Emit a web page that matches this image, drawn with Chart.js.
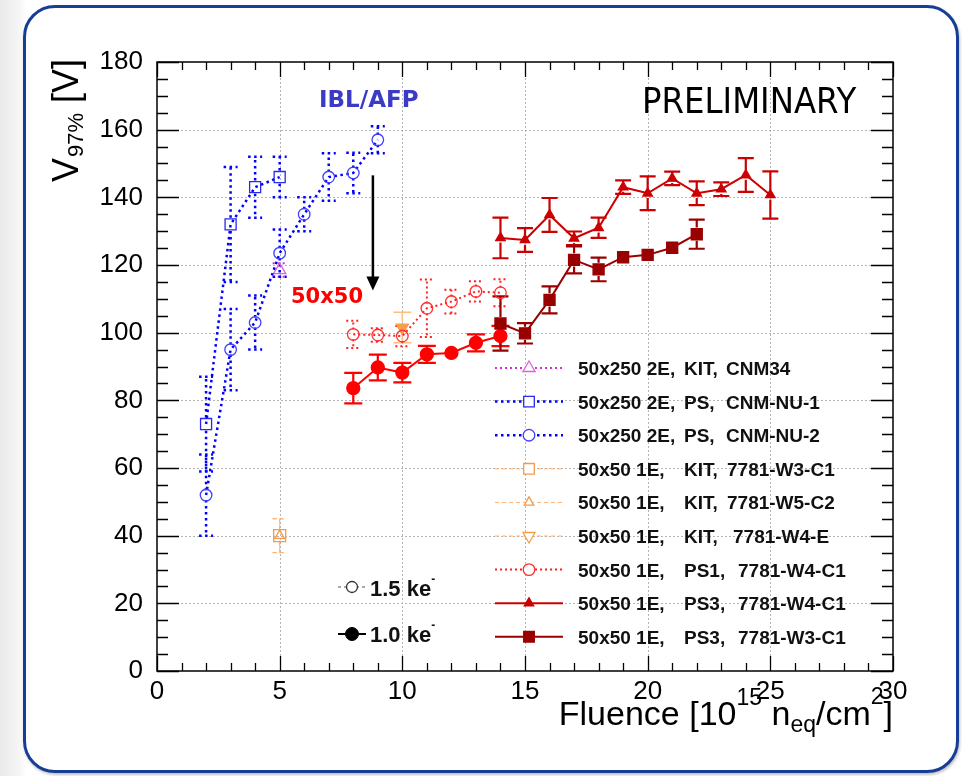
<!DOCTYPE html>
<html><head><meta charset="utf-8">
<script src="https://cdn.jsdelivr.net/npm/chart.js@4.4.1/dist/chart.umd.min.js"></script>
<style>
html,body{margin:0;padding:0;background:#fff;}
#wrap{position:relative;width:965px;height:776px;overflow:hidden;background:linear-gradient(to right,#e9e9e9 0,#f6f6f6 20px,#fff 26px);}
#frame{position:absolute;left:23px;top:5px;width:936px;height:768px;box-sizing:border-box;border:3.5px solid #173e96;border-radius:32px;background:#fff;box-shadow:1px 2px 3px rgba(0,0,0,0.25);}
canvas{position:absolute;left:0;top:0;}
</style></head>
<body><div id="wrap"><div id="frame"></div><canvas id="c" width="965" height="776"></canvas></div>
<script>
// ---- tick labels ----
const xTickVals = [0, 5, 10, 15, 20, 25, 30];
const yTickVals = [0, 20, 40, 60, 80, 100, 120, 140, 160, 180];

// ---- series (fluence, V97%, error) ----
const kitCnm34X = [5];
const kitCnm34Y = [118.5];
const kitCnm34E = [2];

const psNu1X = [2, 3, 4, 5];
const psNu1Y = [73, 132, 143, 146];
const psNu1E = [14, 17, 9, 6];

const psNu2X = [2, 3, 4, 5, 6, 7, 8, 9];
const psNu2Y = [52, 95, 103, 123.5, 135, 146, 147.2, 157];
const psNu2E = [12, 12, 8, 7, 5, 7, 6, 4];

const kitW3C1X = [5];
const kitW3C1Y = [40];
const kitW3C1E = [5];

const kitW5C2X = [5];
const kitW5C2Y = [40];
const kitW5C2E = [5];

const kitW4EX = [10];
const kitW4EY = [101.5];
const kitW4EE = [4.5];

const ps1X = [8, 9, 10, 11, 12, 13, 14];
const ps1Y = [99.5, 99.3, 99, 107.2, 109.2, 112.2, 111.8];
const ps1E = [4, 2, 3, 8.5, 3.5, 3, 4];

const ps1LowX = [8, 9, 10, 11, 12, 13, 14];
const ps1LowY = [83.6, 89.7, 88.2, 93.6, 94, 97, 99];
const ps1LowE = [4.5, 3.8, 2.9, 2.5, 1, 2.5, 3];

const ps3W4X = [14, 15, 16, 17, 18, 19, 20, 21, 22, 23, 24, 25];
const ps3W4Y = [128, 127.4, 134.8, 127.9, 131, 143, 141.2, 145.6, 141.2, 142.4, 146.6, 140.7];
const ps3W4E = [6, 3.5, 5, 2, 3, 2, 5, 2, 3.5, 2, 5, 7];

const ps3W3X = [14, 15, 16, 17, 18, 19, 20, 21, 22];
const ps3W3Y = [102.7, 99.8, 109.7, 121.5, 118.7, 122.3, 123, 125.1, 129.1];
const ps3W3E = [8, 3, 4, 4, 3.5, 1.5, 1, 1.5, 4.3];

const legendLabels = [
  ['50x250 2E,', 'KIT,', 'CNM34'],
  ['50x250 2E,', 'PS,', 'CNM-NU-1'],
  ['50x250 2E,', 'PS,', 'CNM-NU-2'],
  ['50x50 1E,', 'KIT,', '7781-W3-C1'],
  ['50x50 1E,', 'KIT,', '7781-W5-C2'],
  ['50x50 1E,', 'KIT,', '7781-W4-E'],
  ['50x50 1E,', 'PS1,', '7781-W4-C1'],
  ['50x50 1E,', 'PS3,', '7781-W4-C1'],
  ['50x50 1E,', 'PS3,', '7781-W3-C1']
];

const pts = (xs, ys) => xs.map((x, i) => ({x: x, y: ys[i]}));

function mk(o) {
  return Object.assign({
    showLine: true, fill: false, borderWidth: 2, pointBorderWidth: 1.3,
    pointBackgroundColor: 'rgba(0,0,0,0)', pointHoverRadius: 0
  }, o);
}

const datasets = [
  mk({label: 'kit34', data: pts(kitCnm34X, kitCnm34Y), errors: kitCnm34E, borderColor: '#d030d0', pointBorderColor: '#e060e0',
      borderDash: [2, 3], errDash: [2, 3], errWidth: 2, pointStyle: 'triangle', pointRadius: 7, cap: 7, legendRow: 0}),
  mk({label: 'nu1', data: pts(psNu1X, psNu1Y), errors: psNu1E, borderColor: '#0000ff', pointBorderColor: '#2828f0',
      borderWidth: 2.5, borderDash: [2.5, 3.5], errDash: [2.5, 3.5], errWidth: 2.5, pointStyle: 'rect', pointRadius: 7.8, cap: 7, legendRow: 1}),
  mk({label: 'nu2', data: pts(psNu2X, psNu2Y), errors: psNu2E, borderColor: '#0000ff', pointBorderColor: '#4040ff',
      borderWidth: 2.5, borderDash: [2.5, 3.5], errDash: [2.5, 3.5], errWidth: 2.5, pointStyle: 'circle', pointRadius: 5.8, cap: 7, legendRow: 2}),
  mk({label: 'w3c1', data: pts(kitW3C1X, kitW3C1Y), errors: kitW3C1E, borderColor: '#ffb070', pointBorderColor: '#f59a4a',
      borderWidth: 1, borderDash: [4, 3], errDash: [4, 3], errWidth: 1, pointStyle: 'rect', pointRadius: 8.5, cap: 7, legendRow: 3}),
  mk({label: 'w5c2', data: pts(kitW5C2X, kitW5C2Y), errors: kitW5C2E, borderColor: '#ffb070', pointBorderColor: '#f59a4a',
      borderWidth: 1, borderDash: [4, 3], errDash: [4, 3], errWidth: 1, pointStyle: 'triangle', pointRadius: 5.5, cap: 7, legendRow: 4}),
  mk({label: 'w4e', data: pts(kitW4EX, kitW4EY), errors: kitW4EE, borderColor: '#ffb070', pointBorderColor: '#f4a048',
      pointBackgroundColor: '#f4a048', borderWidth: 1, borderDash: [4, 3], errDash: [], errWidth: 1.5, errColor: '#ffbe80',
      pointStyle: 'triangle', pointRotation: 180, pointRadius: 7, cap: 9, legendRow: 5, legendOpen: true}),
  mk({label: 'ps1', data: pts(ps1X, ps1Y), errors: ps1E, borderColor: '#ff2020', pointBorderColor: '#ff3030',
      borderDash: [2, 3], errDash: [2, 3], errWidth: 2, pointStyle: 'circle', pointRadius: 5.8, cap: 7, legendRow: 6}),
  mk({label: 'ps1low', data: pts(ps1LowX, ps1LowY), errors: ps1LowE, borderColor: '#ff0000', pointBorderColor: '#ff0000',
      pointBackgroundColor: '#ff0000', errWidth: 2.2, pointStyle: 'circle', pointRadius: 6.5, cap: 9}),
  mk({label: 'ps3w4', data: pts(ps3W4X, ps3W4Y), errors: ps3W4E, borderColor: '#cc0000', pointBorderColor: '#cc0000',
      pointBackgroundColor: '#cc0000', errWidth: 2.2, pointStyle: 'triangle', pointRadius: 5.5, cap: 8, legendRow: 7}),
  mk({label: 'ps3w3', data: pts(ps3W3X, ps3W3Y), errors: ps3W3E, borderColor: '#990000', pointBorderColor: '#990000',
      pointBackgroundColor: '#990000', errWidth: 2.2, pointStyle: 'rect', pointRadius: 7.8, cap: 8, legendRow: 8})
];
datasets.forEach((d, i) => { d.order = -i; });

const ARIAL = "'Liberation Sans', Arial, sans-serif";

function drawMarker(ctx, style, x, y, r, rot, fill, stroke, lw) {
  ctx.save();
  ctx.setLineDash([]);
  ctx.beginPath();
  if (style === 'circle') {
    ctx.arc(x, y, r, 0, Math.PI * 2);
  } else if (style === 'rect') {
    const s = Math.SQRT1_2 * r;
    ctx.rect(x - s, y - s, 2 * s, 2 * s);
  } else if (style === 'triangle') {
    let a = (rot || 0) * Math.PI / 180;
    for (let k = 0; k < 3; k++) {
      const px = x + Math.sin(a) * r, py = y - Math.cos(a) * r;
      if (k === 0) ctx.moveTo(px, py); else ctx.lineTo(px, py);
      a += 2 * Math.PI / 3;
    }
    ctx.closePath();
  }
  if (fill && fill !== 'rgba(0,0,0,0)') { ctx.fillStyle = fill; ctx.fill(); }
  ctx.strokeStyle = stroke; ctx.lineWidth = lw; ctx.stroke();
  ctx.restore();
}

const framePlugin = {
  id: 'frameGrid',
  beforeDatasetsDraw(chart) {
    const ctx = chart.ctx, a = chart.chartArea, xs = chart.scales.x, ys = chart.scales.y;
    ctx.save();
    // dotted grid
    ctx.strokeStyle = '#b4b4b4'; ctx.lineWidth = 1; ctx.setLineDash([2, 2]);
    xTickVals.forEach(v => {
      if (v === 0 || v === 30) return;
      const px = Math.round(xs.getPixelForValue(v)) + 0.5;
      ctx.beginPath(); ctx.moveTo(px, a.top); ctx.lineTo(px, a.bottom); ctx.stroke();
    });
    yTickVals.forEach(v => {
      if (v === 0 || v === 180) return;
      const py = Math.round(ys.getPixelForValue(v)) + 0.5;
      ctx.beginPath(); ctx.moveTo(a.left, py); ctx.lineTo(a.right, py); ctx.stroke();
    });
    ctx.setLineDash([]);
    // ticks (inward, all four sides)
    ctx.strokeStyle = '#000'; ctx.lineWidth = 1.3;
    for (let v = 0; v <= 30; v++) {
      const px = Math.round(xs.getPixelForValue(v)) + 0.5;
      const L = v % 5 === 0 ? 15 : 8;
      ctx.beginPath();
      ctx.moveTo(px, a.bottom); ctx.lineTo(px, a.bottom - L);
      ctx.moveTo(px, a.top); ctx.lineTo(px, a.top + L);
      ctx.stroke();
    }
    for (let v = 0; v <= 180; v += 5) {
      const py = Math.round(ys.getPixelForValue(v)) + 0.5;
      const L = v % 20 === 0 ? 22 : 11;
      ctx.beginPath();
      ctx.moveTo(a.left, py); ctx.lineTo(a.left + L, py);
      ctx.moveTo(a.right, py); ctx.lineTo(a.right - L, py);
      ctx.stroke();
    }
    // frame
    ctx.lineWidth = 1.5;
    ctx.strokeRect(a.left, a.top, a.right - a.left, a.bottom - a.top);
    // error bars
    chart.data.datasets.forEach(ds => {
      if (!ds.errors) return;
      ctx.save();
      ctx.strokeStyle = ds.errColor || ds.borderColor;
      ctx.lineWidth = ds.errWidth || 2;
      ctx.setLineDash(ds.errDash || []);
      ds.data.forEach((p, j) => {
        const e = ds.errors[j];
        const px = xs.getPixelForValue(p.x), py = ys.getPixelForValue(p.y);
        const top = ys.getPixelForValue(p.y + e), bot = ys.getPixelForValue(p.y - e);
        const g = ds.pointRadius * 0.85, c = ds.cap;
        ctx.beginPath();
        if (py - top > g) {
          ctx.moveTo(px, py - g); ctx.lineTo(px, top);
          ctx.moveTo(px - c, top); ctx.lineTo(px + c, top);
        }
        if (bot - py > g) {
          ctx.moveTo(px, py + g); ctx.lineTo(px, bot);
          ctx.moveTo(px - c, bot); ctx.lineTo(px + c, bot);
        }
        ctx.stroke();
      });
      ctx.restore();
    });
    ctx.restore();
  },
  afterDraw(chart) {
    const ctx = chart.ctx, xs = chart.scales.x, ys = chart.scales.y;
    ctx.save();
    ctx.textBaseline = 'alphabetic';
    // y title
    ctx.save();
    ctx.translate(78, 182);
    ctx.rotate(-Math.PI / 2);
    ctx.fillStyle = '#000';
    ctx.font = '36px ' + ARIAL;
    let x0 = 0;
    ctx.fillText('V', x0, 0); x0 += ctx.measureText('V').width + 1;
    ctx.font = '22px ' + ARIAL;
    ctx.fillText('97%', x0, 5); x0 += ctx.measureText('97%').width;
    ctx.font = '36px ' + ARIAL;
    ctx.fillText(' [V]', x0, 0);
    ctx.restore();
    // x title (right aligned at frame right)
    const parts = [['Fluence [10', 34, 0], ['15', 23, -20], [' n', 34, 0], ['eq', 23, 7], ['/cm', 34, 0], ['2', 23, -21], [']', 34, 0]];
    let tw = 0;
    parts.forEach(p => { ctx.font = p[1] + 'px ' + ARIAL; tw += ctx.measureText(p[0]).width; });
    let cx = 893 - tw;
    ctx.fillStyle = '#000';
    parts.forEach(p => { ctx.font = p[1] + 'px ' + ARIAL; ctx.fillText(p[0], cx, 725 + p[2]); cx += ctx.measureText(p[0]).width; });
    // annotations
    ctx.fillStyle = '#3b3bc8';
    ctx.font = "bold 23px 'DejaVu Sans', sans-serif";
    ctx.fillText('IBL/AFP', 319, 107);
    ctx.save();
    ctx.translate(642, 113); ctx.scale(0.9, 1);
    ctx.fillStyle = '#000';
    ctx.font = "36px 'DejaVu Sans', sans-serif";
    ctx.fillText('PRELIMINARY', 0, 0);
    ctx.restore();
    ctx.fillStyle = '#ff0000';
    ctx.font = "bold 21px 'DejaVu Sans', sans-serif";
    ctx.fillText('50x50', 291, 303);
    // arrow
    const ax = xs.getPixelForValue(8.8), ay1 = ys.getPixelForValue(146.5), ay2 = ys.getPixelForValue(112.5);
    ctx.strokeStyle = '#000'; ctx.lineWidth = 2.5;
    ctx.beginPath(); ctx.moveTo(ax, ay1); ctx.lineTo(ax, ay2 - 12); ctx.stroke();
    ctx.fillStyle = '#000';
    ctx.beginPath(); ctx.moveTo(ax - 6.5, ay2 - 14); ctx.lineTo(ax + 6.5, ay2 - 14); ctx.lineTo(ax, ay2); ctx.closePath(); ctx.fill();
    // legend
    const colX = [578, 684];
    const col3 = [726, 726, 726, 727, 727, 733, 738, 738, 738];
    chart.data.datasets.forEach(ds => {
      if (ds.legendRow === undefined) return;
      const r = ds.legendRow, y = 368 + r * 33.6;
      ctx.save();
      ctx.strokeStyle = ds.borderColor; ctx.lineWidth = ds.borderWidth;
      ctx.setLineDash(ds.borderDash || []);
      ctx.beginPath(); ctx.moveTo(495, y); ctx.lineTo(563, y); ctx.stroke();
      ctx.restore();
      const fill = ds.legendOpen ? '#fff' : ds.pointBackgroundColor;
      drawMarker(ctx, ds.pointStyle, 529, y, Math.min(ds.pointRadius, 7.5), ds.pointRotation || 0,
        fill === 'rgba(0,0,0,0)' ? '#fff' : fill, ds.pointBorderColor, ds.pointBorderWidth);
      ctx.fillStyle = '#111';
      ctx.font = 'bold 19px ' + ARIAL;
      const lab = legendLabels[r];
      ctx.fillText(lab[0], colX[0], y + 7);
      ctx.fillText(lab[1], colX[1], y + 7);
      ctx.fillText(lab[2], col3[r], y + 7);
    });
    // energy mini-legend
    ctx.save();
    ctx.strokeStyle = '#555'; ctx.lineWidth = 1; ctx.setLineDash([3, 3]);
    ctx.beginPath(); ctx.moveTo(338, 587); ctx.lineTo(366, 587); ctx.stroke();
    ctx.restore();
    drawMarker(ctx, 'circle', 352, 587, 5.5, 0, '#fff', '#333', 1.3);
    ctx.strokeStyle = '#000'; ctx.lineWidth = 2;
    ctx.beginPath(); ctx.moveTo(338, 634); ctx.lineTo(366, 634); ctx.stroke();
    drawMarker(ctx, 'circle', 352, 634, 6.5, 0, '#000', '#000', 1);
    ctx.fillStyle = '#111';
    ctx.font = 'bold 22px ' + ARIAL;
    ctx.fillText('1.5 ke', 370, 596);
    ctx.fillText('1.0 ke', 370, 642);
    let w = ctx.measureText('1.5 ke').width;
    ctx.font = 'bold 12px ' + ARIAL;
    ctx.fillText('-', 370 + w, 583);
    ctx.fillText('-', 370 + w, 629);
    ctx.restore();
  }
};

new Chart(document.getElementById('c'), {
  type: 'scatter',
  data: {datasets: datasets},
  options: {
    responsive: false, animation: false,
    layout: {padding: {top: 62, right: 72, left: 0, bottom: 0}},
    plugins: {legend: {display: false}, tooltip: {enabled: false}},
    scales: {
      x: {
        type: 'linear', min: 0, max: 30,
        afterBuildTicks: s => { s.ticks = xTickVals.map(v => ({value: v})); },
        afterFit: s => { s.height = 105; },
        grid: {display: false}, border: {display: false},
        ticks: {color: '#000', font: {family: ARIAL, size: 26}, padding: -3, maxRotation: 0, autoSkip: false}
      },
      y: {
        type: 'linear', min: 0, max: 180,
        afterBuildTicks: s => { s.ticks = yTickVals.map(v => ({value: v})); },
        afterFit: s => { s.width = 157; },
        grid: {display: false}, border: {display: false},
        ticks: {color: '#000', font: {family: ARIAL, size: 26}, padding: 6, autoSkip: false}
      }
    }
  },
  plugins: [framePlugin]
});
</script>
</body></html>
